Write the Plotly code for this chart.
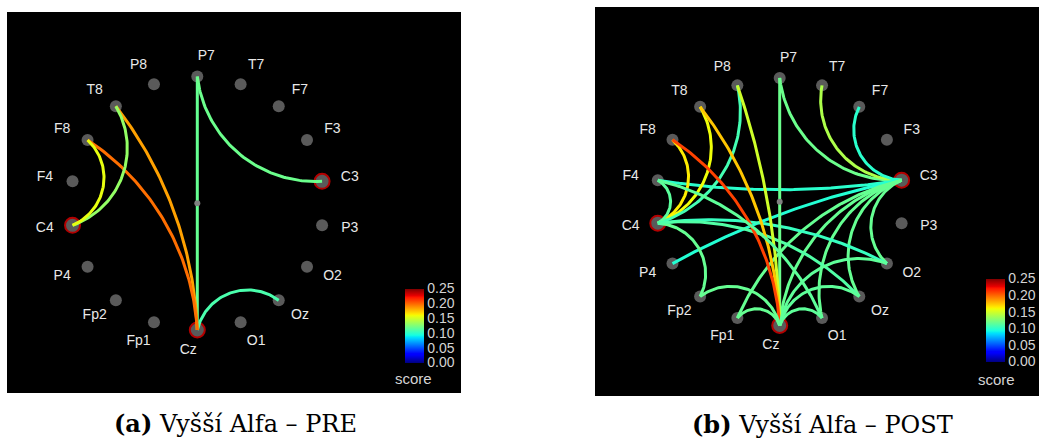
import numpy as np
import plotly.graph_objects as go
from plotly.colors import sample_colorscale

W, H = 1039, 439

# ---------------- data ----------------
channels = ["P7", "T7", "F7", "F3", "C3", "P3", "O2", "Oz", "O1",
            "Cz", "Fp1", "Fp2", "P4", "C4", "F4", "F8", "T8", "P8"]

pre_seeds = ["C3", "C4", "Cz"]
pre_src = ["P7", "P7", "Cz", "T8", "F8", "T8", "F8"]
pre_dst = ["Cz", "C3", "Oz", "Cz", "Cz", "C4", "C4"]
pre_score = [0.118, 0.120, 0.110, 0.185, 0.198, 0.132, 0.158]

post_seeds = ["C3", "C4", "Cz"]
post_src = ["C3", "C3", "C3", "C3", "C3", "C3", "C3", "C3", "C3", "C3",
            "C4", "C4", "C4", "C4", "C4", "C4", "C4",
            "Cz", "Cz", "Cz", "Cz", "Cz", "Cz", "Cz", "Cz", "Cz",
            "F4"]
post_dst = ["P7", "T7", "F7", "F4", "P4", "O2", "Oz", "O1", "Cz", "Fp1",
            "F8", "T8", "P8", "F4", "Fp2", "O2", "Oz",
            "P7", "P8", "T8", "F8", "Fp1", "Fp2", "O1", "Oz", "O2",
            "O1"]
post_score = [0.120, 0.140, 0.100, 0.100, 0.098, 0.118, 0.118, 0.118, 0.118, 0.118,
              0.165, 0.160, 0.108, 0.115, 0.118, 0.104, 0.112,
              0.120, 0.150, 0.175, 0.210, 0.118, 0.118, 0.116, 0.116, 0.116,
              0.116]

score_ticks = [0.00, 0.05, 0.10, 0.15, 0.20, 0.25]
captions = ["<b>(a)</b> Vyšší Alfa – PRE", "<b>(b)</b> Vyšší Alfa – POST"]
cbar_title = "score"

# ---------------- styling ----------------
def jet_rgb(x):
    r = np.interp(x, [0, 0.35, 0.66, 0.89, 1], [0, 0, 1, 1, 0.5])
    g = np.interp(x, [0, 0.125, 0.375, 0.64, 0.91, 1], [0, 0, 1, 1, 0, 0])
    b = np.interp(x, [0, 0.11, 0.34, 0.65, 1], [0.5, 1, 1, 0, 0])
    return f"rgb({int(round(r*255))},{int(round(g*255))},{int(round(b*255))})"

brk = [0, 0.11, 0.125, 0.34, 0.35, 0.375, 0.64, 0.65, 0.66, 0.89, 0.91, 1]
JET = [[v, jet_rgb(v)] for v in brk]
SMAX = score_ticks[-1]

panels = [
    dict(cx=197.3, cy=203.3, R=126.7, xr=[7, 461], yr=[393, 12], cb_x=405, cb_y0=288.3, cb_y1=362.7,
         score_xy=(413, 378), cap_xy=(235, 423)),
    dict(cx=779.7, cy=201.7, R=123.8, xr=[595, 1039], yr=[396, 7], cb_x=986, cb_y0=278.3, cb_y1=361.7,
         score_xy=(996, 379), cap_xy=(822, 424)),
]
datasets = [(pre_seeds, pre_src, pre_dst, pre_score), (post_seeds, post_src, post_dst, post_score)]

fig = go.Figure()


def node_pos(p, name):
    k = channels.index(name)
    th = np.deg2rad(90 - 20 * k)
    return np.array([p["cx"] + p["R"] * np.cos(th), p["cy"] - p["R"] * np.sin(th)]), th, k


def edge_path(P, Q, C, R, kk=1.12, n=80):
    mid = (P + Q) / 2
    mv = mid - C
    m = np.hypot(*mv)
    h = np.hypot(*(Q - P)) / 2
    if m < 1e-3 * R:
        return np.array([P[0], Q[0]]), np.array([P[1], Q[1]])
    delta = 2 * np.arcsin(min(h / R, 1.0))
    rho = kk * R * np.tan(delta / 2)
    u = mv / m
    oc = C + u * (m + np.sqrt(rho ** 2 - h ** 2))
    a0 = np.arctan2(P[1] - oc[1], P[0] - oc[0])
    a1 = np.arctan2(Q[1] - oc[1], Q[0] - oc[0])
    d = (a1 - a0 + np.pi) % (2 * np.pi) - np.pi
    ph = a0 + d * np.linspace(0, 1, n)
    return oc[0] + rho * np.cos(ph), oc[1] + rho * np.sin(ph)


for i, (p, (seeds, src, dst, sc)) in enumerate(zip(panels, datasets)):
    xa = "x" if i == 0 else "x2"
    ya = "y" if i == 0 else "y2"
    scale = p["R"] / 126.7
    # nodes
    xs, ys, cols, sizes, lw, tx, ty = [], [], [], [], [], [], []
    for name in channels:
        pos, th, k = node_pos(p, name)
        xs.append(pos[0]); ys.append(pos[1])
        seed = name in seeds
        cols.append("#ff0000" if seed else "#7f7f7f")
        sizes.append(15 if seed else 12)
        lw.append(2 if seed else 0)
        s = 1 if k <= 8 else -1
        tx.append(pos[0] + scale * s * (9 + 19 * abs(np.cos(th))))
        ty.append(pos[1] - scale * 20 * np.sin(th))
    fig.add_trace(go.Scatter(x=xs, y=ys, mode="markers", xaxis=xa, yaxis=ya, hoverinfo="skip",
                             marker=dict(color="#808080", size=sizes, line=dict(color=cols, width=lw)),
                             showlegend=False))
    fig.add_trace(go.Scatter(x=tx, y=ty, mode="text", text=channels, xaxis=xa, yaxis=ya,
                             textfont=dict(family="Liberation Sans", size=14, color="#e8e8e8"),
                             hoverinfo="skip", showlegend=False))
    # edges
    C = np.array([p["cx"], p["cy"]])
    for a, b, v in zip(src, dst, sc):
        P, _, _ = node_pos(p, a)
        Q, _, _ = node_pos(p, b)
        ex, ey = edge_path(P, Q, C, p["R"])
        col = sample_colorscale(JET, [v / SMAX])[0]
        fig.add_trace(go.Scatter(x=ex, y=ey, mode="lines", xaxis=xa, yaxis=ya, hoverinfo="skip",
                                 line=dict(color=col, width=3), showlegend=False))
    # centre dot
    fig.add_trace(go.Scatter(x=[p["cx"]], y=[p["cy"]], mode="markers", xaxis=xa, yaxis=ya,
                             marker=dict(color="#808080", size=6), hoverinfo="skip", showlegend=False))
    # colorbar
    cb_len = (p["cb_y1"] - p["cb_y0"]) / H
    fig.add_trace(go.Scatter(x=[None], y=[None], mode="markers", xaxis=xa, yaxis=ya, showlegend=False,
                             marker=dict(color=[0], colorscale=JET, cmin=0, cmax=SMAX, showscale=True,
                                         colorbar=dict(x=p["cb_x"] / W, xanchor="left", thickness=19,
                                                       thicknessmode="pixels", len=cb_len, lenmode="fraction",
                                                       y=1 - (p["cb_y0"] + p["cb_y1"]) / 2 / H, yanchor="middle",
                                                       tickvals=score_ticks,
                                                       ticktext=[f"{t:.2f}" for t in score_ticks],
                                                       tickfont=dict(family="Liberation Sans", size=14, color="#d4d4d4"),
                                                       ticks="", outlinewidth=0, xpad=0, ypad=0,
                                                       bgcolor="rgba(0,0,0,0)"))))
    fig.add_annotation(x=p["score_xy"][0] / W, y=1 - p["score_xy"][1] / H, xref="paper", yref="paper",
                       xanchor="center", yanchor="middle", text=cbar_title, showarrow=False,
                       font=dict(family="Liberation Sans", size=15, color="#d4d4d4"))
    fig.add_annotation(x=p["cap_xy"][0] / W, y=1 - p["cap_xy"][1] / H, xref="paper", yref="paper",
                       xanchor="center", yanchor="middle", text=captions[i], showarrow=False,
                       font=dict(family="DejaVu Serif", size=24, color="#000000"))

fig.update_layout(
    width=W, height=H, margin=dict(l=0, r=0, t=0, b=0),
    paper_bgcolor="white", plot_bgcolor="black",
    xaxis=dict(domain=[7 / W, 461 / W], range=panels[0]["xr"], visible=False, fixedrange=True),
    yaxis=dict(domain=[1 - 393 / H, 1 - 12 / H], range=panels[0]["yr"], visible=False, fixedrange=True),
    xaxis2=dict(domain=[595 / W, 1], range=panels[1]["xr"], visible=False, fixedrange=True),
    yaxis2=dict(domain=[1 - 396 / H, 1 - 7 / H], range=panels[1]["yr"], visible=False, fixedrange=True),
)

fig.write_html("out.html")
